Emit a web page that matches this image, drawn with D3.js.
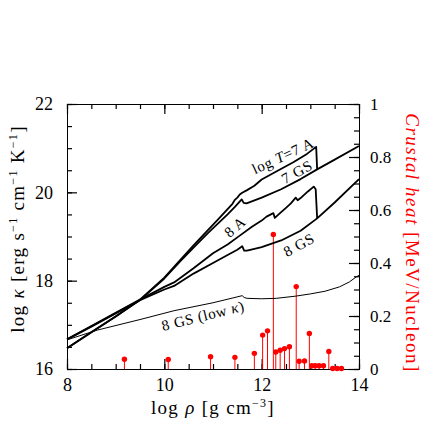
<!DOCTYPE html>
<html><head><meta charset="utf-8">
<script src="https://cdn.jsdelivr.net/npm/d3@7"></script>
<style>body{margin:0;background:#fff}svg{display:block}</style>
</head><body>
<svg id="c" width="436" height="436"></svg>
<script>
// ---- data ----
const xTicks = [8, 10, 12, 14];
const yLeftTicks = [16, 18, 20, 22];
const yRightTicks = [0, 0.2, 0.4, 0.6, 0.8, 1];
const yRightLabels = ["0", "0.2", "0.4", "0.6", "0.8", "1"];

// log rho, log kappa
const curve7A = [[8.0,16.47],[8.5,16.83],[9.0,17.19],[9.5,17.57],[10.0,18.07],[10.32,18.46],[10.6,18.8],[10.9,19.15],[11.1,19.38],[11.3,19.62],[11.4,19.74],[11.45,19.83],[11.5,19.88],[11.55,19.95],[11.6,19.99],[11.7,20.05],[11.85,20.15],[12.0,20.29],[12.3,20.47],[12.65,20.68],[12.93,20.87],[13.12,21.03],[13.14,20.52]];
const curve7GS = [[8.0,16.47],[8.5,16.83],[9.0,17.19],[9.5,17.56],[10.0,18.05],[10.32,18.43],[10.6,18.75],[10.9,19.08],[11.3,19.5],[11.45,19.67],[11.59,19.84],[11.63,19.76],[11.69,19.75],[12.0,19.88],[12.4,20.07],[12.8,20.3],[13.14,20.52],[13.5,20.74],[14.0,21.05]];
const curve8A = [[8.0,16.67],[8.5,16.97],[9.0,17.27],[9.5,17.57],[10.0,17.86],[10.2,17.96],[10.6,18.28],[11.0,18.62],[11.3,18.82],[11.55,19.02],[11.8,19.22],[12.0,19.36],[12.1,19.45],[12.24,19.53],[12.27,19.42],[12.4,19.55],[12.5,19.65],[12.6,19.75],[12.7,19.88],[12.74,19.82],[12.8,19.87],[12.95,20.02],[13.07,20.13],[13.11,20.07],[13.14,19.42]];
const curve8GS = [[8.0,16.67],[8.5,16.96],[9.0,17.26],[9.5,17.56],[10.0,17.8],[10.2,17.88],[10.6,18.16],[11.0,18.4],[11.3,18.58],[11.5,18.7],[11.6,18.78],[11.64,18.68],[11.7,18.68],[12.0,18.76],[12.4,18.91],[12.8,19.13],[13.14,19.41],[13.5,19.77],[14.0,20.3]];
const curve8GSlow = [[8.0,16.66],[8.62,16.88],[9.5,17.12],[10.2,17.32],[11.0,17.5],[11.6,17.66],[11.64,17.62],[11.7,17.6],[12.0,17.59],[12.3,17.6],[12.7,17.65],[13.0,17.7],[13.3,17.76],[13.6,17.86],[13.8,17.97],[13.95,18.09],[14.0,18.12]];

// crustal heating sources: log rho, MeV/nucleon
const heatRho = [9.18,10.08,10.95,11.45,11.85,12.02,12.12,12.24,12.29,12.38,12.47,12.57,12.71,12.77,12.88,12.98,13.03,13.10,13.18,13.27,13.38,13.46,13.55,13.64];
const heatVal = [0.037,0.036,0.046,0.044,0.059,0.128,0.144,0.508,0.064,0.071,0.077,0.084,0.311,0.029,0.030,0.134,0.012,0.012,0.012,0.012,0.066,0.002,0.002,0.002];

// ---- drawing ----
const svg = d3.select('#c');
const L = 67, R = 359, T = 104, B = 369;
const x = d3.scaleLinear().domain([8,14]).range([L,R]);
const yL = d3.scaleLinear().domain([16,22]).range([B,T]);
const yR = d3.scaleLinear().domain([0,1]).range([B,T]);
const FONT = "'Liberation Serif', 'DejaVu Serif', serif";

function axisG(axis, tx, ty){
  const g = svg.append('g').attr('transform', `translate(${tx},${ty})`).call(axis);
  g.select('.domain').remove();
  g.attr('font-family', FONT).attr('font-size', 18);
  g.selectAll('.tick line').attr('stroke', '#000').attr('stroke-width', 1.2);
  g.selectAll('.tick text').attr('fill', '#000');
  return g;
}
const xMinor = d3.range(8, 14.001, 0.5);
const yLMinor = d3.range(16, 22.001, 0.5);
const yRMinor = d3.range(0, 1.0001, 0.05);
const yRMajor = d3.range(0, 1.0001, 0.2);

// frame
svg.append('rect').attr('x', L + 0.5).attr('y', T + 0.5).attr('width', R-L).attr('height', B-T)
  .attr('fill','none').attr('stroke','#000').attr('stroke-width',1);

axisG(d3.axisBottom(x).tickValues(xMinor).tickSize(-5).tickFormat(() => ''), 0, B);
axisG(d3.axisBottom(x).tickValues(xTicks).tickSize(-10).tickPadding(9).tickFormat(d3.format('d')), 0, B);
axisG(d3.axisTop(x).tickValues(xMinor).tickSize(-5).tickFormat(() => ''), 0, T);
axisG(d3.axisTop(x).tickValues(xTicks).tickSize(-10).tickFormat(() => ''), 0, T);
axisG(d3.axisLeft(yL).tickValues(yLMinor).tickSize(-5).tickFormat(() => ''), L, 0);
axisG(d3.axisLeft(yL).tickValues(yLeftTicks).tickSize(-10).tickPadding(14).tickFormat(d3.format('d')), L, 0);
axisG(d3.axisRight(yR).tickValues(yRMinor).tickSize(-5).tickFormat(() => ''), R, 0);
axisG(d3.axisRight(yR).tickValues(yRMajor).tickSize(-10).tickPadding(11).tickFormat((d,i)=>yRightLabels[i]), R, 0)
  .attr('font-size', 17);

// stems
const stems = svg.append('g');
heatRho.forEach((r,i)=>{
  stems.append('line').attr('x1', x(r)).attr('x2', x(r)).attr('y1', yR(0)).attr('y2', yR(heatVal[i]))
    .attr('stroke', '#ff0000').attr('stroke-width', 1);
  stems.append('circle').attr('cx', x(r)).attr('cy', yR(heatVal[i])).attr('r', 2.7).attr('fill', '#ff0000');
});

// curves
const line = d3.line().x(d=>x(d[0])).y(d=>yL(d[1]));
[[curve7A,1.8],[curve7GS,1.8],[curve8A,1.8],[curve8GS,1.8],[curve8GSlow,1.0]].forEach(([c,w])=>{
  svg.append('path').attr('d', line(c)).attr('fill','none').attr('stroke','#000')
    .attr('stroke-width', w).attr('stroke-linejoin','round');
});

// in-plot labels
function label(px, py, rot, parts, size){
  const t = svg.append('text').attr('transform', `translate(${px},${py}) rotate(${rot})`)
    .attr('text-anchor','middle').attr('dominant-baseline','central')
    .attr('font-family', FONT).attr('font-size', size || 15).attr('letter-spacing', 0.6).attr('fill','#000');
  parts.forEach(p=>{ const s = t.append('tspan').text(p[0]); if(p[1]) s.attr('font-style','italic'); });
  return t;
}
label(283, 156, -25, [["log "],["T",1],["=7 A"]]);
label(297, 172, -29, [["7 GS"]]);
label(235, 227, -40, [["8 A"]]);
label(299, 245, -29, [["8 GS"]]);
label(203, 316, -14, [["8 GS (low "],["κ",1],[")"]]);

// axis titles
const bt = svg.append('text').attr('x', 213).attr('y', 414).attr('text-anchor','middle')
  .attr('font-family', FONT).attr('font-size', 19).attr('letter-spacing', 1.3).attr('fill','#000');
bt.append('tspan').text('log ');
bt.append('tspan').text('ρ').attr('font-style','italic');
bt.append('tspan').text('  [g  cm');
bt.append('tspan').text('−3').attr('font-size', 12).attr('dy', -7);
bt.append('tspan').text(']').attr('dy', 7);

const lt = svg.append('text').attr('transform','translate(24,229) rotate(-90)').attr('text-anchor','middle')
  .attr('font-family', FONT).attr('font-size', 19).attr('letter-spacing', 1.3).attr('fill','#000');
lt.append('tspan').text('log ');
lt.append('tspan').text('κ').attr('font-style','italic');
lt.append('tspan').text('  [erg  s');
lt.append('tspan').text('−1').attr('font-size', 12).attr('dy', -7);
lt.append('tspan').text('  cm').attr('dy', 7);
lt.append('tspan').text('−1').attr('font-size', 12).attr('dy', -7);
lt.append('tspan').text('  K').attr('dy', 7);
lt.append('tspan').text('−1').attr('font-size', 12).attr('dy', -7);
lt.append('tspan').text(']').attr('dy', 7);

const rt = svg.append('text').attr('transform','translate(406,243) rotate(90)').attr('text-anchor','middle')
  .attr('font-family', FONT).attr('font-size', 19).attr('letter-spacing', 1.5).attr('fill','#ff0000');
rt.append('tspan').text('Crustal heat').attr('font-style','italic');
rt.append('tspan').text('  [MeV/Nucleon]');
</script>
</body></html>
